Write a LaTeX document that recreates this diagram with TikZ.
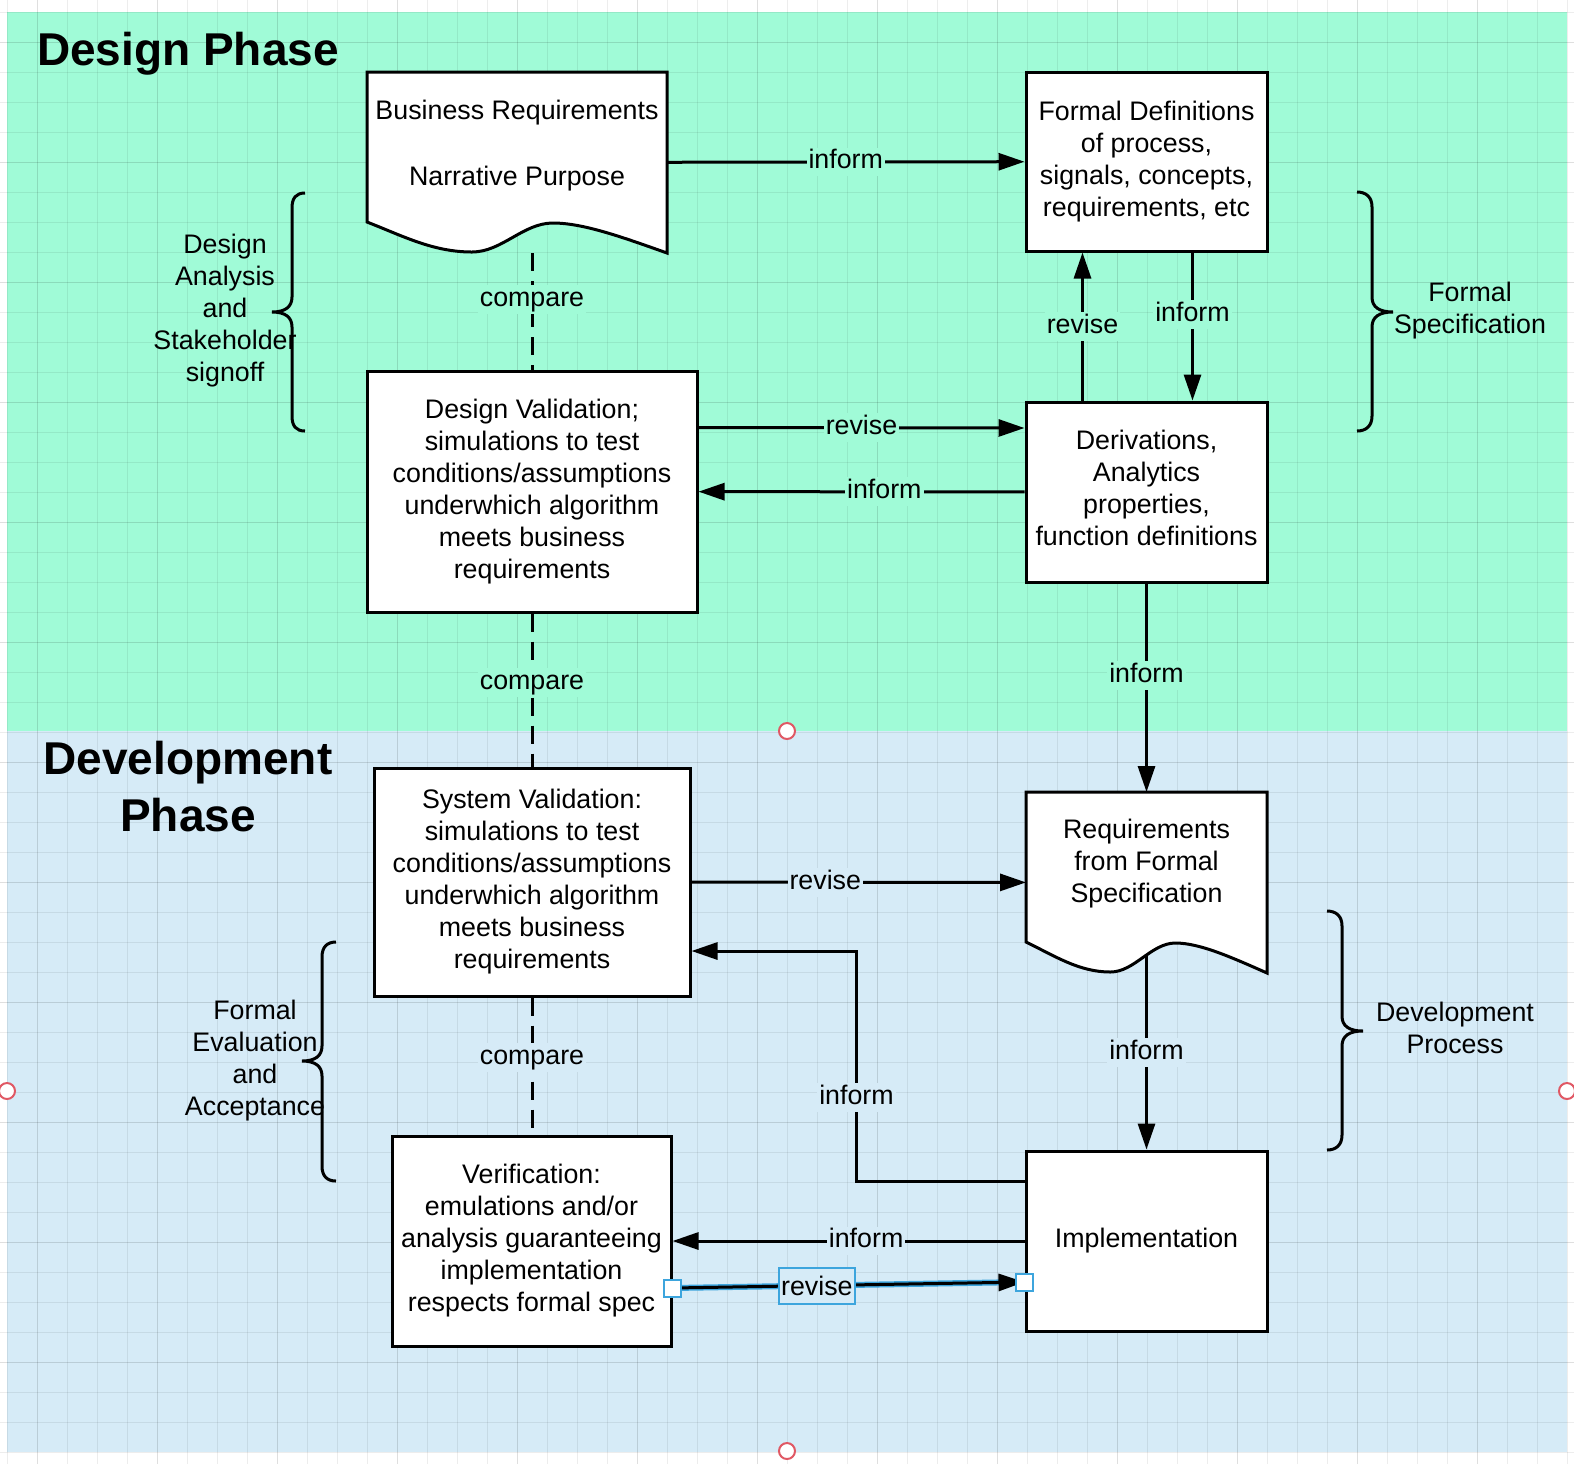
\documentclass[tikz,border=0pt]{standalone}
\usepackage{fontspec}
\setmainfont{Liberation Sans}
\usetikzlibrary{arrows.meta,calc}

\definecolor{designbg}{RGB}{160,251,215}
\definecolor{devbg}{RGB}{214,235,247}
\definecolor{selblue}{RGB}{61,165,221}
\definecolor{handlered}{RGB}{224,88,100}

% wavy outline of a document node, drawn from its anchors
\newcommand{\docoutline}[1]{%
  \draw[-, fill=white] (#1.north west) -- (#1.north east) -- (#1.south east)
    .. controls ($(#1.south west)!.85!(#1.south east)+(0,-16)$) and ($(#1.south west)!.72!(#1.south east)+(0,-30)$) .. ($(#1.south west)!.62!(#1.south east)+(0,-30)$)
    .. controls ($(#1.south west)!.52!(#1.south east)+(0,-30)$) and ($(#1.south west)!.45!(#1.south east)+(0,-1)$) .. ($(#1.south west)!.35!(#1.south east)+(0,-1)$)
    .. controls ($(#1.south west)!.22!(#1.south east)+(0,-1)$) and ($(#1.south west)!.12!(#1.south east)+(0,-17)$) .. ($(#1.south west)+(0,-31)$)
    -- cycle;}

\begin{document}
\begin{tikzpicture}[x=0.5pt, y=-0.5pt, ->, >={Triangle[length=13pt,width=8.5pt]}, line width=1.5pt,
    every node/.style={font=\fontsize{13.4}{16}\selectfont}]
    \tikzstyle{box}=[draw, fill=white, align=center, inner sep=0pt]
    \tikzstyle{doc}=[inner sep=0pt, outer sep=0pt]
    \tikzstyle{annot}=[align=center]
    \tikzstyle{phase title}=[font=\fontsize{23}{28.5}\selectfont\bfseries, align=center]
    \tikzstyle{design label}=[fill=designbg, inner sep=1pt, text height=9.6pt, text depth=2.8pt]
    \tikzstyle{dev label}=[fill=devbg, inner sep=1pt, text height=9.6pt, text depth=2.8pt]
    \tikzstyle{sel label}=[draw=selblue, line width=1pt, fill=devbg, inner xsep=1pt, inner ysep=0pt, minimum height=18pt]
    \tikzstyle{compare line}=[-, dash pattern=on 9pt off 5pt]
    \tikzstyle{selected}=[preaction={draw=selblue, line width=3pt, -}]
    \tikzstyle{brace}=[-, line width=1.5pt]
    \tikzstyle{grid line}=[-, line width=0.5pt, black, opacity=0.07]
    \tikzstyle{major line}=[-, line width=0.5pt, black, opacity=0.06]
    \tikzstyle{page handle}=[circle, draw=handlered, line width=1pt, fill=white, minimum size=8pt, inner sep=0pt]
    \tikzstyle{line handle}=[rectangle, draw=selblue, line width=1pt, fill=white, minimum size=8.5pt, inner sep=0pt]

    \useasboundingbox (0,0) rectangle (1574,1464);

    % Backgrounds
    \fill[designbg] (7,12) rectangle (1567,731);
    \fill[devbg] (7,731) rectangle (1567,1452);
    \foreach \x in {7,37,...,1567}
        \draw[grid line] (\x,0) -- (\x,1464);
    \foreach \y in {12,42,...,1452}
        \draw[grid line] (0,\y) -- (1574,\y);
    \foreach \x in {37,157,...,1567}
        \draw[major line] (\x,0) -- (\x,1464);
    \foreach \y in {42,162,...,1452}
        \draw[major line] (0,\y) -- (1574,\y);

    % Design phase
    \node[phase title, anchor=base] (design title) at (188,65) {Design Phase};
    \node[doc, minimum width=150pt, minimum height=90.5pt] (business) at (517,162.5) {};
    \node[box, minimum width=120.5pt, minimum height=89.5pt] (formal) at (1146.5,161.5) {Formal Definitions\\of process,\\signals, concepts,\\requirements, etc};
    \node[box, minimum width=165pt, minimum height=120.5pt] (design val) at (532,491.5) {Design Validation;\\simulations to test\\conditions/assumptions\\underwhich algorithm\\meets business\\requirements};
    \node[box, minimum width=120.5pt, minimum height=90pt] (deriv) at (1146.5,492) {Derivations,\\Analytics\\properties,\\function definitions\rule[-4pt]{0pt}{4pt}};

    % Development phase
    \node[phase title] (dev title) at (188,787) {Development\\Phase};
    \node[box, minimum width=158pt, minimum height=114pt] (system val) at (532,882) {System Validation:\\simulations to test\\conditions/assumptions\\underwhich algorithm\\meets business\\requirements};
    \node[doc, minimum width=120.5pt, minimum height=90.5pt] (req) at (1146.5,882.5) {};
    \node[box, minimum width=139.5pt, minimum height=105pt] (verif) at (531.5,1241) {Verification:\\emulations and/or\\analysis guaranteeing\\implementation\\respects formal spec};
    \node[box, minimum width=120.5pt, minimum height=90pt] (impl) at (1146.5,1241) {Implementation};

    % Design links
    \path (business) edge node[design label] {inform} (formal);
    \path ([yshift=32pt]design val.east) edge node[design label] {revise} ([yshift=32pt]deriv.west);
    \path (deriv) edge node[design label, pos=.43] {inform} (design val);
    \path ([xshift=-32pt]deriv.north) edge node[design label] {revise} ([xshift=-32pt]formal.south);
    \path ([xshift=23pt]formal.south) edge node[design label, pos=.42] {inform} ([xshift=23pt]deriv.north);
    \path (deriv) edge node[design label, pos=.44] {inform} (req);
    \path (business.south -| design val.north) edge[compare line] node[design label, pos=.40] {compare} (design val.north);
    \path (design val) edge[compare line] node[design label, pos=.45] {compare} (system val);

    % Development links
    \path (system val) edge node[dev label, pos=.4] {revise} (req);
    \draw ([yshift=30pt]impl.west) -- ++(-168,0) |- node[dev label, pos=.181] {inform} ([yshift=-34.5pt]system val.east);
    \path ([yshift=15pt]req.south) edge node[dev label, pos=.53] {inform} (impl);
    \path (impl) edge node[dev label, pos=.45] {inform} (verif);
    \path (system val.south) edge[compare line] node[dev label, pos=.44] {compare} (system val.south |- verif.north);
    \path ([yshift=-23.5pt]verif.east) edge[selected] node[sel label, pos=.41] {revise} ([yshift=-20.5pt]impl.west);
    \node[line handle] (sel start) at ([yshift=-23.5pt]verif.east) {};
    \node[line handle] (sel end) at ([yshift=-20.5pt]impl.west) {};

    % Documents
    \docoutline{business}
    \node[align=center] (business text) at ($(business)+(0,-16.5)$) {Business Requirements\\[17pt]Narrative Purpose};
    \docoutline{req}
    \node[align=center] (req text) at ($(req)+(0,-18.5)$) {Requirements\\from Formal\\Specification};

    % Braces
    \draw[brace] (305,193) .. controls (296,193) and (292,198) .. (292,208) -- (292,297) .. controls (292,307) and (285,312) .. (272,312) .. controls (285,312) and (292,317) .. (292,327) -- (292,416) .. controls (292,426) and (296,431) .. (305,431);
    \draw[brace] (1357,192) .. controls (1366,192) and (1372,197) .. (1372,207) -- (1372,297) .. controls (1372,307) and (1379,312) .. (1393,312) .. controls (1379,312) and (1372,317) .. (1372,327) -- (1372,416) .. controls (1372,426) and (1366,431) .. (1357,431);
    \draw[brace] (336,942) .. controls (327,942) and (322,947) .. (322,957) -- (322,1046) .. controls (322,1056) and (315,1061) .. (302,1061) .. controls (315,1061) and (322,1066) .. (322,1076) -- (322,1166) .. controls (322,1176) and (327,1181) .. (336,1181);
    \draw[brace] (1327,911) .. controls (1336,911) and (1342,916) .. (1342,926) -- (1342,1016) .. controls (1342,1026) and (1349,1031) .. (1363,1031) .. controls (1349,1031) and (1342,1036) .. (1342,1046) -- (1342,1135) .. controls (1342,1145) and (1336,1150) .. (1327,1150);
    \node[annot] (design signoff) at (225,311) {Design\\Analysis\\and\\Stakeholder\\signoff};
    \node[annot] (formal spec) at (1470,310.5) {Formal\\Specification};
    \node[annot] (formal eval) at (255,1061) {Formal\\Evaluation\\and\\Acceptance};
    \node[annot] (dev process) at (1455,1028) {Development\\Process};

    % Page handles
    \node[page handle] (handle top) at (787,731) {};
    \node[page handle] (handle left) at (7,1091) {};
    \node[page handle] (handle right) at (1567,1091) {};
    \node[page handle] (handle bottom) at (787,1451) {};
\end{tikzpicture}
\end{document}
